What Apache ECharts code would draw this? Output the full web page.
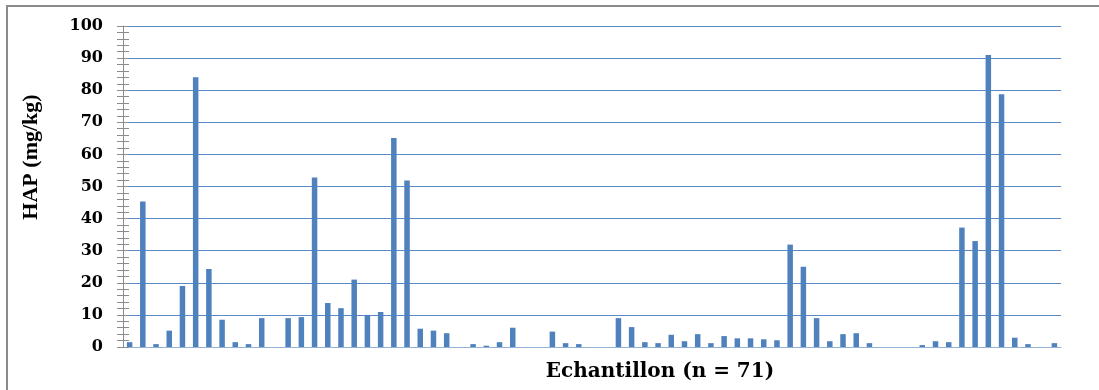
<!DOCTYPE html>
<html>
<head>
<meta charset="utf-8">
<script src="https://cdn.jsdelivr.net/npm/echarts@6/dist/echarts.min.js"></script>
<style>html,body{margin:0;padding:0;background:#fff;}#c{width:1099px;height:390px;}</style>
</head>
<body>
<div id="c"></div>
<script>
const categories = Array.from({length: 71}, (_, i) => String(i + 1));
const hapValues = [
  1.5, 45.3, 0.9, 5.1, 19, 84, 24.3, 8.5, 1.5, 0.9,
  9, 0, 9, 9.3, 52.8, 13.7, 12.1, 21, 10, 10.9,
  65.1, 51.9, 5.7, 5.1, 4.3, 0, 0.9, 0.4, 1.5, 6,
  0, 0, 4.8, 1.2, 0.9, 0, 0, 9, 6.2, 1.5,
  1.2, 3.8, 1.8, 4, 1.2, 3.4, 2.7, 2.7, 2.4, 2.1,
  31.9, 25, 9, 1.8, 4, 4.3, 1.2, 0, 0, 0,
  0.6, 1.8, 1.5, 37.2, 33, 91, 78.7, 2.9, 0.9, 0,
  1.2
];
const yTicks = { min: 0, max: 100, interval: 10 };
const yTitle = 'HAP (mg/kg)';
const xTitle = 'Echantillon (n = 71)';

const chart = echarts.init(document.getElementById('c'), null, {renderer: 'canvas'});
const tickStyle = {color: '#8c8c8c', width: 1};
chart.setOption({
  animation: false,
  backgroundColor: '#ffffff',
  grid: {left: 123, right: 38, top: 26, bottom: 43, containLabel: false},
  xAxis: {
    type: 'category',
    data: categories,
    boundaryGap: true,
    axisLine: {show: true, lineStyle: {color: '#95b3d7', width: 1}},
    axisTick: {show: false},
    axisLabel: {show: false},
    splitLine: {show: false}
  },
  yAxis: [{
    type: 'value',
    position: 'left',
    min: yTicks.min, max: yTicks.max, interval: yTicks.interval,
    axisLine: {show: true, lineStyle: {color: '#8c8c8c', width: 1}},
    axisTick: {show: true, inside: false, length: 6, lineStyle: tickStyle},
    minorTick: {show: true, splitNumber: 5, length: 6, lineStyle: tickStyle},
    axisLabel: {
      show: true, margin: 20, color: '#000',
      fontFamily: 'DejaVu Serif', fontWeight: 'bold', fontSize: 16
    },
    splitLine: {show: true, lineStyle: {color: '#5a8ac6', width: 1}}
  }, {
    type: 'value',
    position: 'left',
    offset: 0,
    min: yTicks.min, max: yTicks.max, interval: yTicks.interval,
    axisLine: {show: false},
    axisTick: {show: true, inside: true, length: 6, lineStyle: tickStyle},
    minorTick: {show: true, splitNumber: 5, length: 6, lineStyle: tickStyle},
    axisLabel: {show: false},
    splitLine: {show: false}
  }],
  series: [{
    type: 'bar',
    data: hapValues,
    barWidth: 5.5,
    itemStyle: {color: '#4f81bd'}
  }],
  graphic: [
    {
      type: 'rect', silent: true,
      shape: {x: 7, y: 6, width: 1200, height: 500},
      style: {fill: 'none', stroke: '#8a8a8a', lineWidth: 2}
    },
    {
      type: 'text', x: 31, y: 157, rotation: Math.PI / 2,
      style: {
        text: yTitle, fill: '#000', align: 'center', verticalAlign: 'middle',
        font: 'bold 22px "Liberation Serif"'
      }
    },
    {
      type: 'text', x: 660, y: 372,
      style: {
        text: xTitle, fill: '#000', align: 'center', verticalAlign: 'middle',
        font: 'bold 20px "DejaVu Serif"'
      }
    }
  ]
});
</script>
</body>
</html>
